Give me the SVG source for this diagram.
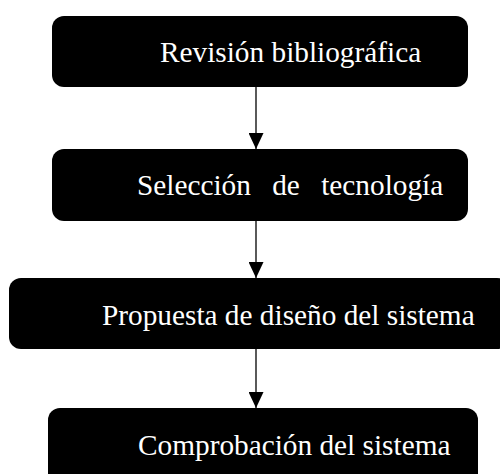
<svg xmlns="http://www.w3.org/2000/svg" width="500" height="474" viewBox="0 0 500 474">
<style>
.box{fill:#000;stroke:none}
.t{font-family:"Liberation Serif","Times New Roman",serif;font-size:29.3px;fill:#fff}
.c{stroke:#000;stroke-width:1.3;fill:none}
</style>
<defs>
<marker id="ah" viewBox="0 0 16 15" refX="16" refY="7.5" markerWidth="16" markerHeight="15" markerUnits="userSpaceOnUse" orient="auto">
<path d="M0,0 L16,7.5 L0,15 Z" fill="#000"/>
</marker>
</defs>
<rect width="500" height="474" fill="#fff"/>
<g id="connectors">
<line class="c" x1="256" y1="87" x2="256" y2="149" marker-end="url(#ah)"/>
<line class="c" x1="256" y1="221" x2="256" y2="278" marker-end="url(#ah)"/>
<line class="c" x1="256" y1="349" x2="256" y2="408" marker-end="url(#ah)"/>
</g>
<g id="n1">
<rect class="box" x="52" y="16" width="416" height="71" rx="12"/>
<text class="t" x="160" y="62">Revisión bibliográfica</text>
</g>
<g id="n2">
<rect class="box" x="52" y="149" width="416" height="72" rx="12"/>
<text class="t" x="137" y="195" word-spacing="14">Selección de tecnología</text>
</g>
<g id="n3">
<rect class="box" x="9" y="278" width="500" height="71" rx="12"/>
<text class="t" x="102" y="325">Propuesta de diseño del sistema</text>
</g>
<g id="n4">
<rect class="box" x="48" y="408" width="430" height="80" rx="12"/>
<text class="t" x="138" y="455">Comprobación del sistema</text>
</g>
</svg>
